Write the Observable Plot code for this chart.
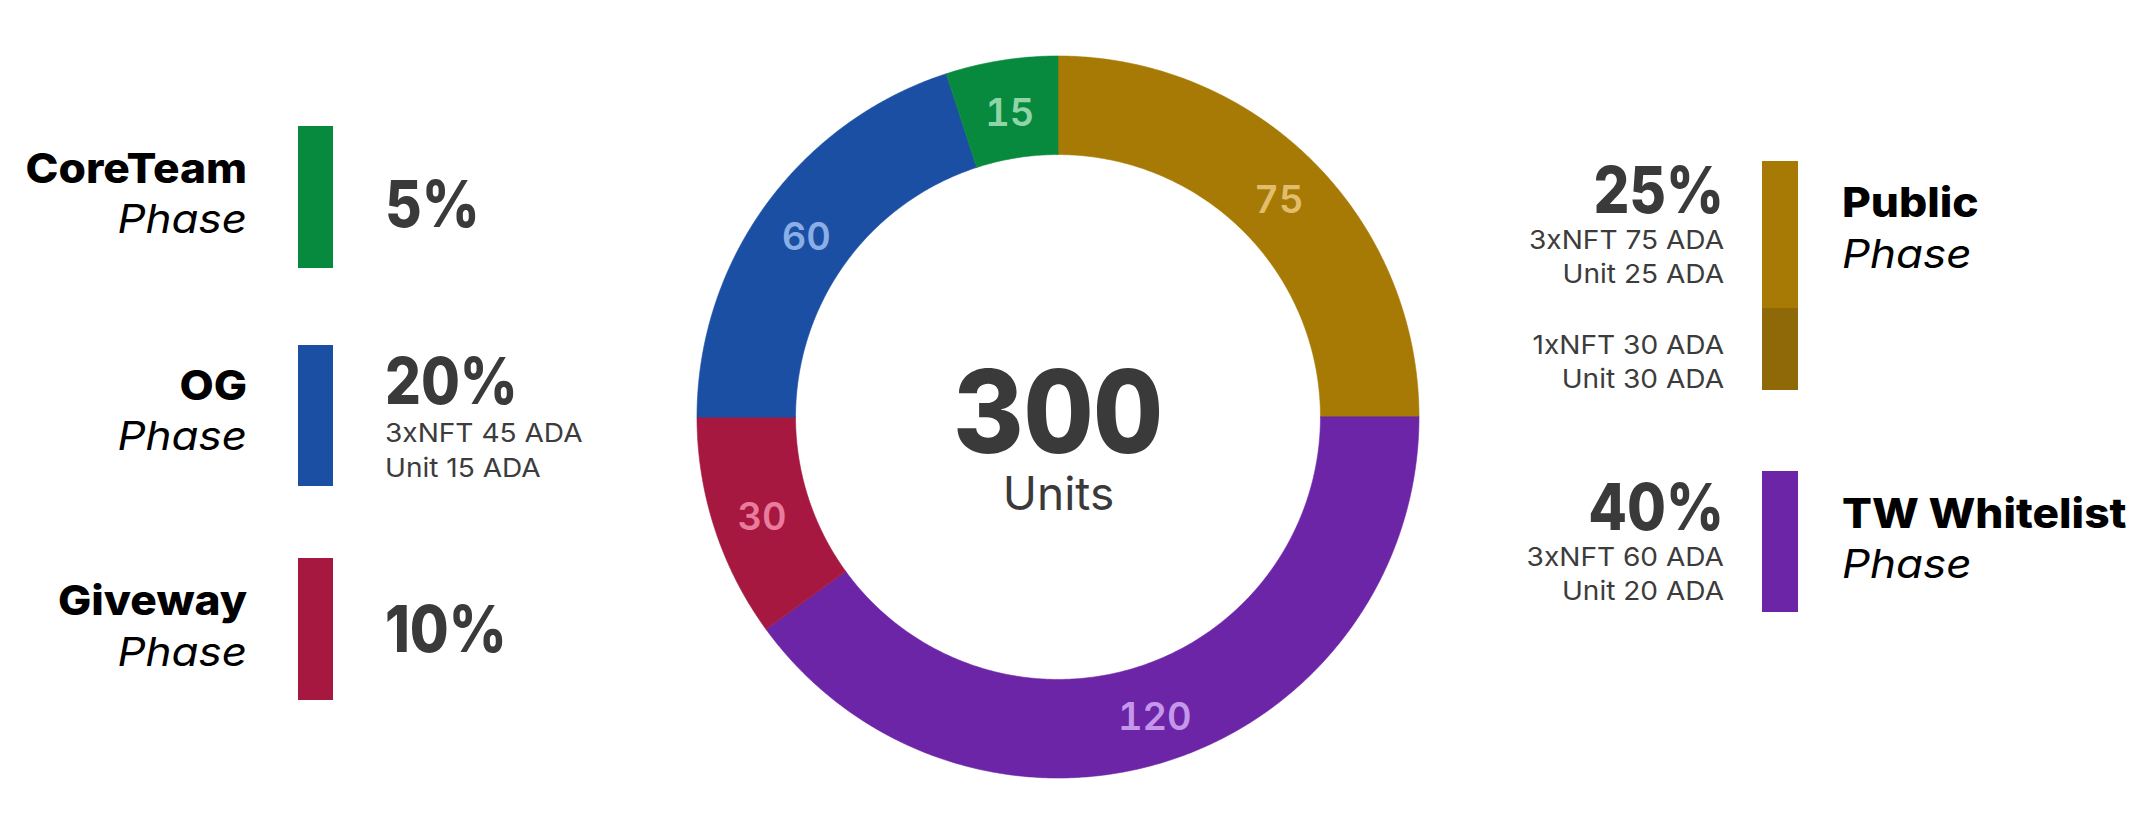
<!DOCTYPE html>
<html><head><meta charset="utf-8">
<script src="https://cdn.jsdelivr.net/npm/d3@7"></script>
<script src="https://cdn.jsdelivr.net/npm/@observablehq/plot@0.6"></script>
<style>
html,body{margin:0;padding:0;background:#fff;}
#chart{position:relative;width:2134px;height:835px;}
</style></head><body><div id="chart"></div>
<script>
// ---- data ----
const phases = ["Public", "TW Whitelist", "Giveway", "OG", "CoreTeam"];
const units = [75, 120, 30, 60, 15];
const percents = ["25%", "40%", "10%", "20%", "5%"];
const phaseWord = "Phase";
const colors = ["#a67a04", "#6b25a6", "#a6183f", "#1b4fa3", "#078a3d"];
const labelColors = ["#e2bd6c", "#c597ea", "#e97c9c", "#8aaee6", "#8fd5a8"];
const publicTierColors = ["#a67a04", "#8f6908"];
const priceLines = [
  [["3xNFT 75 ADA", "Unit 25 ADA"], ["1xNFT 30 ADA", "Unit 30 ADA"]],
  [["3xNFT 60 ADA", "Unit 20 ADA"]],
  [],
  [["3xNFT 45 ADA", "Unit 15 ADA"]],
  []
];
const centerWord = "Units";
const innerRatio = 0.727;

// ---- derived geometry from data ----
const total = d3.sum(units);
let acc = 0;
const slices = phases.map((p, i) => {
  const a0 = acc / total * 2 * Math.PI; acc += units[i];
  const a1 = acc / total * 2 * Math.PI;
  return {phase: p, value: units[i], a0, a1, mid: (a0 + a1) / 2, color: colors[i], labelColor: labelColors[i]};
});
const ring = slices.flatMap(s => {
  const n = Math.max(2, Math.ceil((s.a1 - s.a0) / (Math.PI / 360)));
  return d3.range(n + 1).map(k => {
    const a = s.a0 + (s.a1 - s.a0) * k / n;
    return {phase: s.phase, color: s.color, x1: Math.sin(a), y1: Math.cos(a), x2: innerRatio * Math.sin(a), y2: innerRatio * Math.cos(a)};
  });
});
const rMid = (1 + innerRatio) / 2;
const FONT = "Inter, 'Open Sans', sans-serif";

const plot = Plot.plot({
  width: 2134, height: 835, margin: 0,
  x: {domain: [-1, 1], range: [697, 1419], axis: null},
  y: {domain: [-1, 1], range: [778, 56], axis: null},
  color: {type: "identity"},
  style: {fontFamily: FONT, background: "#fff"},
  marks: [
    Plot.area(ring, {x1: "x1", y1: "y1", x2: "x2", y2: "y2", z: "phase", fill: "color", stroke: "color", strokeWidth: 0.6, curve: "linear"}),
    Plot.text(slices, {x: s => rMid * Math.sin(s.mid), y: s => rMid * Math.cos(s.mid), text: "value", fill: "labelColor",
      fontSize: 38, fontWeight: 600, lineAnchor: "middle", dy: 4}),
    Plot.text([total], {x: 0, y: 0, text: d => d, dy: 35, lineAnchor: "bottom", fontSize: 116, fontWeight: 800, fill: "#3a3a3a"}),
    Plot.text([centerWord], {x: 0, y: 0, text: d => d, dy: 92, lineAnchor: "bottom", fontSize: 46, fontWeight: 400, fill: "#3a3a3a"})
  ]
});

document.getElementById("chart").appendChild(plot);
const svg = d3.select(plot);
// slightly narrower center figure, as in the reference typeface
svg.selectAll("text").filter(function() { return this.textContent === String(total); })
  .each(function() { const t = this.getAttribute("transform"); if (t) this.setAttribute("transform", t + " scale(0.93,1)"); });

// ---- side legends (layout) ----
const layout = {
  left: {barX: 298, barW: 35, nameX: 247, pctX: 385},
  right: {barX: 1762, barW: 36, nameX: 1842, pctX: 1724}
};
const styles = {
  name: {size: 41, weight: 800, fill: "#000", k: 1.08},
  phase: {size: 40, weight: 400, fill: "#000", k: 1.1, italic: true},
  pct: {size: 64, weight: 800, fill: "#3a3a3a", k: 0.88},
  line: {size: 26, weight: 400, fill: "#3c3c3c", k: 1.08}
};
const items = [
  {idx: 4, side: "left", bars: [[126, 268]], nameBase: 183, phaseBase: 233, pctBase: 227, lineBases: []},
  {idx: 3, side: "left", bars: [[345, 486]], nameBase: 400, phaseBase: 450, pctBase: 404, lineBases: [[442, 477]]},
  {idx: 2, side: "left", bars: [[558, 700]], nameBase: 615, phaseBase: 666, pctBase: 652, lineBases: []},
  {idx: 0, side: "right", bars: [[161, 308], [308, 390]], nameBase: 217, phaseBase: 268, pctBase: 213, lineBases: [[249, 283], [354, 388]]},
  {idx: 1, side: "right", bars: [[471, 612]], nameBase: 528, phaseBase: 578, pctBase: 530, lineBases: [[566, 600]]}
];
const lg = svg.append("g").attr("aria-label", "legend").style("font-family", FONT);
function txt(x, y, s, anchor, o) {
  const t = lg.append("text").attr("transform", `translate(${x},${y}) scale(${o.k},1)`)
    .attr("text-anchor", anchor).attr("font-size", o.size).attr("font-weight", o.weight)
    .attr("fill", o.fill).text(s);
  if (o.italic) t.attr("font-style", "italic");
}
items.forEach(it => {
  const L = layout[it.side];
  const i = it.idx;
  it.bars.forEach((b, j) => {
    lg.append("rect").attr("x", L.barX).attr("width", L.barW).attr("y", b[0]).attr("height", b[1] - b[0])
      .attr("fill", i === 0 ? publicTierColors[j] : colors[i]);
  });
  const nameAnchor = it.side === "left" ? "end" : "start";
  const pctAnchor = it.side === "left" ? "start" : "end";
  txt(L.nameX, it.nameBase, phases[i], nameAnchor, styles.name);
  txt(L.nameX, it.phaseBase, phaseWord, nameAnchor, styles.phase);
  txt(L.pctX, it.pctBase, percents[i], pctAnchor, styles.pct);
  priceLines[i].forEach((pair, j) => {
    pair.forEach((line, m) => txt(L.pctX, it.lineBases[j][m], line, pctAnchor, styles.line));
  });
});
</script>
</body></html>
